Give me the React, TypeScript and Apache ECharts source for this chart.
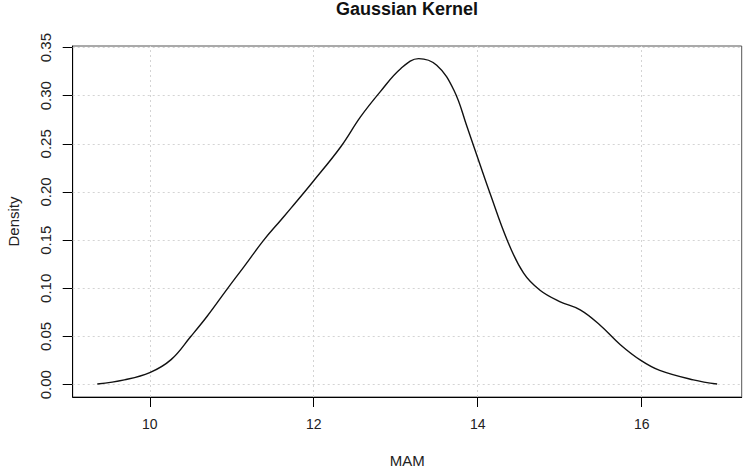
import React, { useEffect, useRef } from "react";
import * as echarts from "echarts";

const xValues = [
  9.36, 9.69, 10.0, 10.26, 10.5, 10.7, 10.95, 11.15, 11.39, 11.6, 11.72, 11.99,
  12.33, 12.57, 12.81, 13.06, 13.28, 13.5, 13.71, 13.87, 14.03, 14.15, 14.36,
  14.56, 14.76, 15.0, 15.25, 15.49, 15.74, 15.99, 16.22, 16.63, 16.92,
];
const densityValues = [
  0.0007, 0.005, 0.0125, 0.026, 0.05, 0.071, 0.1, 0.1226, 0.15, 0.171, 0.183,
  0.2107, 0.247, 0.278, 0.304, 0.328, 0.3385, 0.3316, 0.3057, 0.2677, 0.228,
  0.1987, 0.15, 0.1157, 0.098, 0.0863, 0.0777, 0.062, 0.0415, 0.0252, 0.0148,
  0.005, 0.0007,
];
const xTicks = [10, 12, 14, 16];
const yTicks = [0, 0.05, 0.1, 0.15, 0.2, 0.25, 0.3, 0.35];

const FONT = "'Liberation Sans', Arial, Helvetica, sans-serif";

export default function App() {
  const ref = useRef<HTMLDivElement>(null);
  useEffect(() => {
    if (!ref.current) return;
    const chart = echarts.init(ref.current, null, { renderer: "svg" });
    const data = xValues.map((x, i) => [x, densityValues[i]]);
    chart.setOption({
      animation: false,
      backgroundColor: "#ffffff",
      title: {
        text: "Gaussian Kernel",
        left: 407,
        top: 0,
        textAlign: "center",
        padding: 0,
        textStyle: {
          fontFamily: FONT,
          fontWeight: "bold",
          fontSize: 18,
          color: "#111",
        },
      },
      grid: {
        left: 72.7,
        right: 2.3,
        top: 46,
        bottom: 72,
        show: true,
        borderColor: "#555",
        borderWidth: 1,
        containLabel: false,
        outerBoundsMode: "none",
      },
      xAxis: {
        type: "value",
        min: 9.06,
        max: 17.22,
        name: "MAM",
        nameLocation: "middle",
        nameGap: 56,
        nameTextStyle: { fontFamily: FONT, fontSize: 15, color: "#222" },
        axisLine: { show: true, onZero: false, lineStyle: { color: "#000", width: 1 } },
        axisTick: {
          show: true,
          inside: false,
          length: 10,
          customValues: xTicks,
          lineStyle: { color: "#000", width: 1 },
        },
        axisLabel: {
          customValues: xTicks,
          margin: 20,
          fontFamily: FONT,
          fontSize: 14,
          color: "#222",
        },
        splitLine: { show: false },
      },
      yAxis: {
        type: "value",
        min: -0.0128,
        max: 0.3516,
        name: "Density",
        nameLocation: "middle",
        nameRotate: 90,
        nameGap: 52,
        nameTextStyle: { fontFamily: FONT, fontSize: 15, color: "#222" },
        axisLine: { show: true, onZero: false, lineStyle: { color: "#000", width: 1 } },
        axisTick: {
          show: true,
          inside: false,
          length: 10,
          customValues: yTicks,
          lineStyle: { color: "#000", width: 1 },
        },
        axisLabel: {
          customValues: yTicks,
          rotate: 90,
          margin: 20,
          fontFamily: FONT,
          fontSize: 15,
          color: "#222",
          formatter: (v: number) => v.toFixed(2),
        },
        splitLine: { show: false },
      },
      series: [
        {
          type: "line",
          data,
          smooth: 0.4,
          showSymbol: false,
          symbol: "none",
          lineStyle: { color: "#111", width: 1.4 },
          z: 3,
          markLine: {
            silent: true,
            symbol: "none",
            animation: false,
            z: 1,
            label: { show: false },
            lineStyle: { color: "#d4d4d4", type: [2, 3], width: 1 },
            data: [
              ...xTicks.map((v) => ({ xAxis: v })),
              ...yTicks.map((v) => ({ yAxis: v })),
            ],
          },
        },
      ],
    });
    return () => chart.dispose();
  }, []);
  return (
    <div
      ref={ref}
      style={{ position: "absolute", left: 0, top: 0, width: 744, height: 469 }}
    />
  );
}
